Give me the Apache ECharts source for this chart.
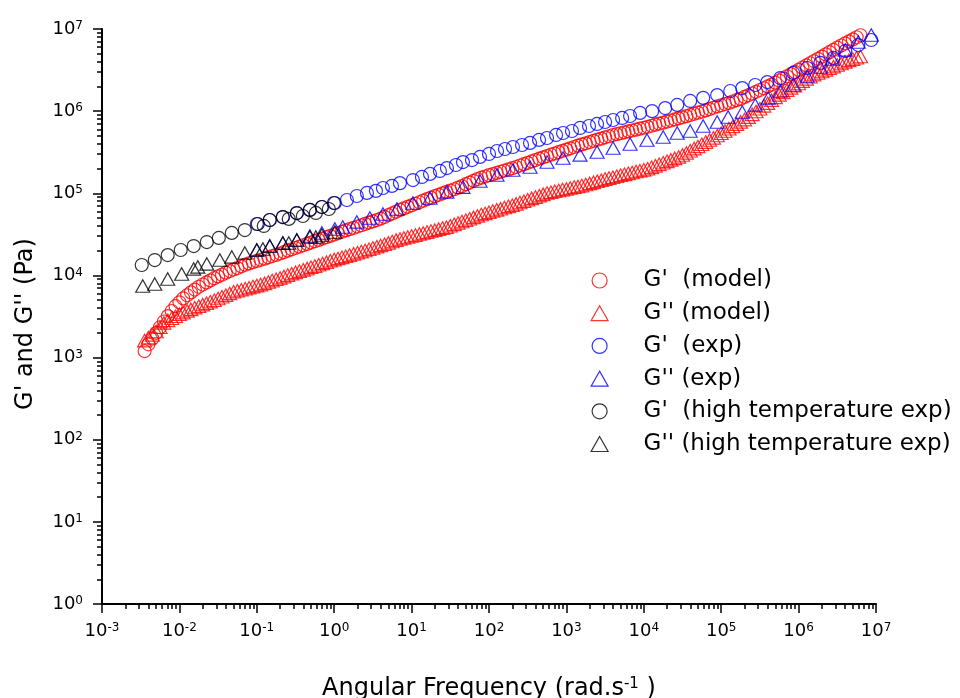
<!DOCTYPE html>
<html>
<head>
<meta charset="utf-8">
<script src="https://cdn.jsdelivr.net/npm/echarts@6/dist/echarts.min.js"></script>
<style>html,body{margin:0;padding:0;background:#fff}#c{width:960px;height:698px}</style>
</head>
<body>
<div id="c"></div>
<script>
const FONT = 'DejaVu Sans';

// ---- axis ticks / labels ----
const xTickValues = [1e-3, 1e-2, 1e-1, 1, 10, 100, 1e3, 1e4, 1e5, 1e6, 1e7];
const xTickExponents = ['-3', '-2', '-1', '0', '1', '2', '3', '4', '5', '6', '7'];
const yTickValues = [1, 10, 100, 1e3, 1e4, 1e5, 1e6, 1e7];
const yTickExponents = ['0', '1', '2', '3', '4', '5', '6', '7'];
const minorMultipliers = [2, 3, 4, 5, 6, 7, 8, 9];

// ---- series names ----
const seriesNames = ["G'  (model)", "G'' (model)", "G'  (exp)", "G'' (exp)",
  "G'  (high temperature exp)", "G'' (high temperature exp)"];

// ---- model (shared frequencies) ----
const modelFreq = [
  3.55e-3, 3.98e-3, 4.47e-3, 5.01e-3, 5.62e-3, 6.31e-3, 7.08e-3, 7.94e-3, 8.91e-3,
  1.00e-2, 1.12e-2, 1.26e-2, 1.41e-2, 1.58e-2, 1.78e-2, 2.00e-2, 2.24e-2, 2.51e-2, 2.82e-2, 3.16e-2, 3.55e-2, 3.98e-2, 4.47e-2, 5.01e-2, 5.62e-2, 6.31e-2, 7.08e-2, 7.94e-2, 8.91e-2,
  1.00e-1, 1.12e-1, 1.26e-1, 1.41e-1, 1.58e-1, 1.78e-1, 2.00e-1, 2.24e-1, 2.51e-1, 2.82e-1, 3.16e-1, 3.55e-1, 3.98e-1, 4.47e-1, 5.01e-1, 5.62e-1, 6.31e-1, 7.08e-1, 7.94e-1, 8.91e-1,
  1.00, 1.12, 1.26, 1.41, 1.58, 1.78, 2.00, 2.24, 2.51, 2.82, 3.16, 3.55, 3.98, 4.47, 5.01, 5.62, 6.31, 7.08, 7.94, 8.91,
  1.00e1, 1.12e1, 1.26e1, 1.41e1, 1.58e1, 1.78e1, 2.00e1, 2.24e1, 2.51e1, 2.82e1, 3.16e1, 3.55e1, 3.98e1, 4.47e1, 5.01e1, 5.62e1, 6.31e1, 7.08e1, 7.94e1, 8.91e1,
  1.00e2, 1.12e2, 1.26e2, 1.41e2, 1.58e2, 1.78e2, 2.00e2, 2.24e2, 2.51e2, 2.82e2, 3.16e2, 3.55e2, 3.98e2, 4.47e2, 5.01e2, 5.62e2, 6.31e2, 7.08e2, 7.94e2, 8.91e2,
  1.00e3, 1.12e3, 1.26e3, 1.41e3, 1.58e3, 1.78e3, 2.00e3, 2.24e3, 2.51e3, 2.82e3, 3.16e3, 3.55e3, 3.98e3, 4.47e3, 5.01e3, 5.62e3, 6.31e3, 7.08e3, 7.94e3, 8.91e3,
  1.00e4, 1.12e4, 1.26e4, 1.41e4, 1.58e4, 1.78e4, 2.00e4, 2.24e4, 2.51e4, 2.82e4, 3.16e4, 3.55e4, 3.98e4, 4.47e4, 5.01e4, 5.62e4, 6.31e4, 7.08e4, 7.94e4, 8.91e4,
  1.00e5, 1.12e5, 1.26e5, 1.41e5, 1.58e5, 1.78e5, 2.00e5, 2.24e5, 2.51e5, 2.82e5, 3.16e5, 3.55e5, 3.98e5, 4.47e5, 5.01e5, 5.62e5, 6.31e5, 7.08e5, 7.94e5, 8.91e5,
  1.00e6, 1.12e6, 1.26e6, 1.41e6, 1.58e6, 1.78e6, 2.00e6, 2.24e6, 2.51e6, 2.82e6, 3.16e6, 3.55e6, 3.98e6, 4.47e6, 5.01e6, 5.62e6, 6.31e6
];
const gPrimeModel = [
  1.20e3, 1.45e3, 1.70e3, 2.00e3, 2.34e3, 2.75e3, 3.20e3, 3.69e3, 4.22e3,
  4.71e3, 5.25e3, 5.74e3, 6.22e3, 6.73e3, 7.28e3, 7.76e3, 8.22e3, 8.71e3, 9.25e3, 9.72e3, 1.02e4, 1.08e4, 1.13e4, 1.18e4, 1.23e4, 1.29e4, 1.35e4, 1.40e4, 1.45e4,
  1.50e4, 1.55e4, 1.60e4, 1.66e4, 1.72e4, 1.78e4, 1.85e4, 1.92e4, 2.00e4, 2.08e4, 2.16e4, 2.24e4, 2.33e4, 2.42e4, 2.51e4, 2.61e4, 2.71e4, 2.81e4, 2.92e4, 3.03e4,
  3.15e4, 3.27e4, 3.40e4, 3.53e4, 3.66e4, 3.80e4, 3.94e4, 4.08e4, 4.24e4, 4.40e4, 4.55e4, 4.72e4, 4.91e4, 5.15e4, 5.41e4, 5.69e4, 5.97e4, 6.27e4, 6.55e4, 6.84e4,
  7.14e4, 7.46e4, 7.78e4, 8.13e4, 8.49e4, 8.85e4, 9.23e4, 9.59e4, 9.98e4, 1.04e5, 1.08e5, 1.12e5, 1.17e5, 1.22e5, 1.29e5, 1.35e5, 1.42e5, 1.49e5, 1.55e5, 1.60e5,
  1.66e5, 1.71e5, 1.77e5, 1.83e5, 1.89e5, 1.95e5, 2.02e5, 2.09e5, 2.18e5, 2.26e5, 2.35e5, 2.44e5, 2.54e5, 2.64e5, 2.74e5, 2.84e5, 2.95e5, 3.05e5, 3.17e5, 3.29e5,
  3.40e5, 3.53e5, 3.66e5, 3.80e5, 3.94e5, 4.06e5, 4.20e5, 4.35e5, 4.49e5, 4.63e5, 4.80e5, 4.95e5, 5.12e5, 5.25e5, 5.38e5, 5.52e5, 5.66e5, 5.81e5, 5.96e5, 6.12e5,
  6.28e5, 6.44e5, 6.64e5, 6.84e5, 7.03e5, 7.24e5, 7.46e5, 7.69e5, 7.93e5, 8.17e5, 8.41e5, 8.69e5, 8.97e5, 9.27e5, 9.57e5, 9.89e5, 1.02e6, 1.06e6, 1.10e6, 1.14e6,
  1.18e6, 1.22e6, 1.26e6, 1.31e6, 1.36e6, 1.41e6, 1.49e6, 1.56e6, 1.64e6, 1.72e6, 1.81e6, 1.90e6, 2.00e6, 2.10e6, 2.22e6, 2.36e6, 2.50e6, 2.66e6, 2.82e6, 3.00e6,
  3.18e6, 3.38e6, 3.60e6, 3.83e6, 4.07e6, 4.34e6, 4.61e6, 4.91e6, 5.22e6, 5.56e6, 5.92e6, 6.30e6, 6.67e6, 7.06e6, 7.48e6, 7.93e6, 8.39e6
];
const gDoublePrimeModel = [
  1.61e3, 1.75e3, 1.89e3, 2.08e3, 2.34e3, 2.64e3, 2.84e3, 3.01e3, 3.18e3,
  3.37e3, 3.53e3, 3.70e3, 3.86e3, 4.05e3, 4.22e3, 4.41e3, 4.59e3, 4.79e3, 4.99e3, 5.24e3, 5.50e3, 5.75e3, 6.04e3, 6.32e3, 6.50e3, 6.70e3, 6.89e3, 7.10e3, 7.31e3,
  7.52e3, 7.74e3, 8.00e3, 8.32e3, 8.65e3, 8.97e3, 9.33e3, 9.68e3, 1.01e4, 1.05e4, 1.09e4, 1.13e4, 1.17e4, 1.21e4, 1.26e4, 1.30e4, 1.35e4, 1.40e4, 1.45e4, 1.51e4,
  1.56e4, 1.61e4, 1.66e4, 1.71e4, 1.77e4, 1.83e4, 1.89e4, 1.95e4, 2.01e4, 2.08e4, 2.16e4, 2.24e4, 2.32e4, 2.40e4, 2.49e4, 2.59e4, 2.69e4, 2.78e4, 2.86e4, 2.94e4,
  3.02e4, 3.10e4, 3.19e4, 3.28e4, 3.37e4, 3.47e4, 3.56e4, 3.66e4, 3.77e4, 3.87e4, 4.03e4, 4.19e4, 4.36e4, 4.53e4, 4.71e4, 4.90e4, 5.09e4, 5.30e4, 5.51e4, 5.69e4,
  5.87e4, 6.08e4, 6.28e4, 6.49e4, 6.71e4, 6.93e4, 7.16e4, 7.43e4, 7.73e4, 8.02e4, 8.34e4, 8.67e4, 8.99e4, 9.35e4, 9.70e4, 1.01e5, 1.03e5, 1.06e5, 1.08e5, 1.11e5,
  1.13e5, 1.16e5, 1.19e5, 1.21e5, 1.24e5, 1.28e5, 1.32e5, 1.36e5, 1.40e5, 1.44e5, 1.49e5, 1.53e5, 1.57e5, 1.61e5, 1.66e5, 1.70e5, 1.75e5, 1.79e5, 1.84e5, 1.88e5,
  1.93e5, 1.99e5, 2.07e5, 2.16e5, 2.25e5, 2.35e5, 2.45e5, 2.55e5, 2.66e5, 2.77e5, 2.92e5, 3.10e5, 3.30e5, 3.50e5, 3.72e5, 3.95e5, 4.20e5, 4.46e5, 4.73e5, 5.05e5,
  5.38e5, 5.73e5, 6.11e5, 6.52e5, 6.95e5, 7.40e5, 7.89e5, 8.45e5, 9.14e5, 9.89e5, 1.07e6, 1.16e6, 1.25e6, 1.36e6, 1.47e6, 1.58e6, 1.69e6, 1.80e6, 1.92e6, 2.04e6,
  2.17e6, 2.32e6, 2.47e6, 2.62e6, 2.78e6, 2.91e6, 3.04e6, 3.18e6, 3.33e6, 3.48e6, 3.64e6, 3.80e6, 3.98e6, 4.15e6, 4.30e6, 4.46e6, 4.62e6
];

// ---- experiment ----
const gPrimeExpFreq = [
  0.100, 0.147, 0.217, 0.329, 0.485, 0.693, 1.02, 1.46, 1.96, 2.65, 3.46, 4.26, 5.57, 7.07,
  10.4, 13.6, 17.3, 23.2, 28.6, 37.4, 46.1, 60.3, 76.5, 100, 127, 161, 204, 267, 339, 443,
  562, 735, 906, 1180, 1500, 1960, 2490, 3160, 4010, 5250, 6650, 8960, 12800, 18900,
  27000, 39700, 58500, 88700, 131000, 187000, 275000, 394000, 579000, 853000,
  1.29e6, 1.91e6, 2.81e6, 4.01e6, 5.90e6, 8.69e6
];
const gPrimeExp = [
  4.23e4, 4.73e4, 5.14e4, 5.75e4, 6.27e4, 6.81e4, 7.62e4, 8.28e4, 9.27e4, 1.01e5, 1.07e5, 1.16e5, 1.23e5, 1.33e5,
  1.45e5, 1.58e5, 1.72e5, 1.87e5, 2.03e5, 2.21e5, 2.40e5, 2.54e5, 2.77e5, 3.01e5, 3.27e5, 3.46e5, 3.66e5, 3.87e5, 4.10e5, 4.46e5,
  4.71e5, 5.13e5, 5.42e5, 5.73e5, 6.24e5, 6.59e5, 6.98e5, 7.38e5, 7.80e5, 8.26e5, 8.73e5, 9.51e5, 1.00e6, 1.09e6,
  1.19e6, 1.33e6, 1.45e6, 1.57e6, 1.76e6, 1.91e6, 2.08e6, 2.26e6, 2.53e6, 2.92e6,
  3.35e6, 3.86e6, 4.44e6, 5.40e6, 6.38e6, 7.35e6
];
const gDoublePrimeExpFreq = [
  0.100, 0.147, 0.217, 0.329, 0.485, 0.693, 1.02, 1.29, 1.96, 2.89, 4.26, 6.46, 10.4, 17.3,
  28.6, 46.1, 76.5, 127, 204, 339, 562, 906, 1500, 2490, 4010, 6650, 11000, 17800,
  27000, 39700, 58500, 88700, 123000, 187000, 275000, 405000, 579000, 853000,
  1.29e6, 1.91e6, 2.72e6, 4.01e6, 5.90e6, 8.69e6
];
const gDoublePrimeExp = [
  2.04e4, 2.28e4, 2.48e4, 2.70e4, 3.02e4, 3.29e4, 3.68e4, 3.89e4, 4.48e4, 5.00e4, 5.60e4, 6.44e4, 7.62e4, 8.77e4,
  1.04e5, 1.19e5, 1.41e5, 1.67e5, 1.92e5, 2.09e5, 2.40e5, 2.69e5, 2.93e5, 3.18e5, 3.56e5, 3.98e5, 4.46e5, 4.85e5,
  5.42e5, 5.73e5, 6.59e5, 7.38e5, 8.49e5, 9.77e5, 1.19e6, 1.45e6, 1.76e6, 2.08e6,
  2.68e6, 3.45e6, 4.32e6, 5.56e6, 6.95e6, 8.46e6
];

// ---- high temperature experiment ----
const gPrimeHighFreq = [
  3.26e-3, 4.80e-3, 7.06e-3, 1.04e-2, 1.53e-2, 2.26e-2, 3.23e-2, 4.75e-2, 7.00e-2,
  0.103, 0.123, 0.147, 0.217, 0.259, 0.329, 0.394, 0.485, 0.579, 0.693, 0.853, 0.99
];
const gPrimeHigh = [
  1.34e4, 1.54e4, 1.77e4, 2.04e4, 2.28e4, 2.55e4, 2.86e4, 3.29e4, 3.57e4,
  4.23e4, 4.00e4, 4.73e4, 5.14e4, 4.87e4, 5.75e4, 5.29e4, 6.27e4, 5.76e4, 6.81e4, 6.44e4, 7.62e4
];
const gDoublePrimeHighFreq = [
  3.36e-3, 4.80e-3, 7.06e-3, 1.07e-2, 1.53e-2, 1.73e-2, 2.26e-2, 3.33e-2, 4.75e-2, 7.00e-2,
  0.100, 0.120, 0.147, 0.217, 0.259, 0.329, 0.485, 0.579, 0.693, 1.02
];
const gDoublePrimeHigh = [
  7.44e3, 7.87e3, 9.05e3, 1.04e4, 1.20e4, 1.27e4, 1.38e4, 1.54e4, 1.68e4, 1.88e4,
  2.04e4, 2.10e4, 2.28e4, 2.48e4, 2.48e4, 2.70e4, 2.94e4, 2.94e4, 3.11e4, 3.38e4
];

// ---- build ----
function minorTicks(majors) {
  const out = [];
  for (let i = 0; i < majors.length - 1; i++) {
    minorMultipliers.forEach(m => out.push(m * majors[i]));
  }
  return out;
}
const xMinorTicks = minorTicks(xTickValues);
const yMinorTicks = minorTicks(yTickValues);

function findIdx(arr, v) {
  return arr.findIndex(t => Math.abs(Math.log10(t) - Math.log10(v)) < 1e-6);
}
const pairs = (xs, ys) => xs.map((x, i) => [x, ys[i]]);

const tickRich = {
  b: { fontFamily: FONT, fontSize: 18, lineHeight: 18, color: '#000', padding: [5, 0, 0, 0], verticalAlign: 'bottom' },
  s: { fontFamily: FONT, fontSize: 12, lineHeight: 12, color: '#000', verticalAlign: 'top' }
};

function mk(name, xs, ys, color, shape) {
  return {
    name: name,
    type: 'scatter',
    data: pairs(xs, ys),
    symbol: shape,
    symbolSize: shape === 'circle' ? 13 : [14, 12.5],
    itemStyle: { color: 'rgba(0,0,0,0)', borderColor: color, borderWidth: 1.2 },
    emphasis: { disabled: true },
    silent: true,
    xAxisIndex: 0,
    yAxisIndex: 0
  };
}

const grid = { left: 102, top: 29, width: 774, height: 575, containLabel: false, outerBoundsMode: 'none' };

const option = {
  animation: false,
  backgroundColor: '#fff',
  grid: [Object.assign({}, grid), Object.assign({}, grid)],
  legend: {
    orient: 'vertical',
    left: 590.5,
    top: 269,
    padding: 0,
    itemWidth: 17,
    itemHeight: 15,
    itemGap: 9.7,
    selectedMode: false,
    itemStyle: { borderWidth: 1.2 },
    textStyle: { fontFamily: FONT, fontSize: 23, color: '#000', padding: [0, 0, 0, 30.5] },
    data: seriesNames
  },
  xAxis: [{
    type: 'log', logBase: 10, min: 1e-3, max: 1e7, gridIndex: 0, position: 'bottom',
    axisLine: { show: true, onZero: false, lineStyle: { color: '#000', width: 2 } },
    axisTick: { show: true, customValues: xTickValues, length: 9, lineStyle: { color: '#000', width: 1.5 } },
    axisLabel: {
      show: true, customValues: xTickValues, margin: 18,
      formatter: v => '{b|10}{s|' + xTickExponents[findIdx(xTickValues, v)] + '}',
      rich: tickRich
    },
    splitLine: { show: false }, minorTick: { show: false },
    name: '{t|Angular Frequency (rad.s}{s|-1}{t| )}',
    nameLocation: 'middle', nameGap: 73,
    nameTextStyle: {
      rich: {
        t: { fontFamily: FONT, fontSize: 24, lineHeight: 24, color: '#000', padding: [8, 0, 0, 0], verticalAlign: 'bottom' },
        s: { fontFamily: FONT, fontSize: 15, lineHeight: 15, color: '#000', verticalAlign: 'top' }
      }
    }
  }, {
    type: 'log', logBase: 10, min: 1e-3, max: 1e7, gridIndex: 1, position: 'bottom',
    axisLine: { show: false },
    axisTick: { show: true, customValues: xMinorTicks, length: 5, lineStyle: { color: '#000', width: 1.5 } },
    axisLabel: { show: false },
    splitLine: { show: false }
  }],
  yAxis: [{
    type: 'log', logBase: 10, min: 1, max: 1e7, gridIndex: 0, position: 'left',
    axisLine: { show: true, onZero: false, lineStyle: { color: '#000', width: 2 } },
    axisTick: { show: true, customValues: yTickValues, length: 9, lineStyle: { color: '#000', width: 1.5 } },
    axisLabel: {
      show: true, customValues: yTickValues, margin: 19,
      formatter: v => '{b|10}{s|' + yTickExponents[findIdx(yTickValues, v)] + '}',
      rich: tickRich
    },
    splitLine: { show: false }, minorTick: { show: false },
    name: "G' and G'' (Pa)",
    nameLocation: 'middle', nameGap: 64,
    nameTextStyle: { fontFamily: FONT, fontSize: 24, lineHeight: 24, color: '#000', padding: [0, 15, 0, 0] }
  }, {
    type: 'log', logBase: 10, min: 1, max: 1e7, gridIndex: 1, position: 'left',
    axisLine: { show: false },
    axisTick: { show: true, customValues: yMinorTicks, length: 5, lineStyle: { color: '#000', width: 1.5 } },
    axisLabel: { show: false },
    splitLine: { show: false }
  }],
  series: [
    mk(seriesNames[0], modelFreq, gPrimeModel, '#ff0000', 'circle'),
    mk(seriesNames[1], modelFreq, gDoublePrimeModel, '#ff0000', 'triangle'),
    mk(seriesNames[2], gPrimeExpFreq, gPrimeExp, '#0000ff', 'circle'),
    mk(seriesNames[3], gDoublePrimeExpFreq, gDoublePrimeExp, '#0000ff', 'triangle'),
    mk(seriesNames[4], gPrimeHighFreq, gPrimeHigh, '#000000', 'circle'),
    mk(seriesNames[5], gDoublePrimeHighFreq, gDoublePrimeHigh, '#000000', 'triangle')
  ]
};

const chart = echarts.init(document.getElementById('c'), null, { renderer: 'canvas' });
chart.setOption(option);
</script>
</body>
</html>
